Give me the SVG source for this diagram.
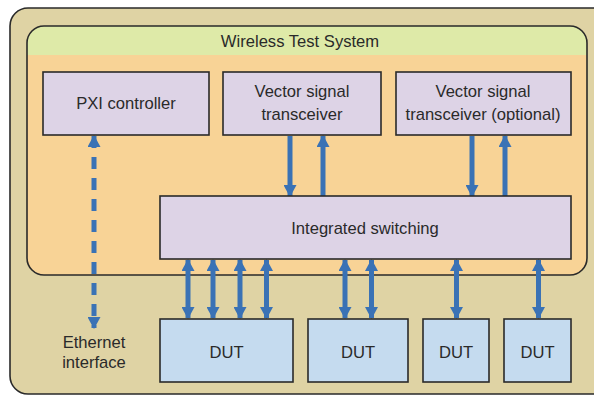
<svg xmlns="http://www.w3.org/2000/svg" width="594" height="395" viewBox="0 0 594 395">
<style>
.t{font-family:"Liberation Sans",Arial,sans-serif;font-size:16.6px;fill:#2a2a2a;text-anchor:middle}
.box{stroke:#2a2a2a;stroke-width:1.6}
.mod{fill:#ddd3e6}
.dut{fill:#c5dbef}
.ar{stroke:#3a72b5;stroke-width:5;fill:none}
</style>
<defs>
<clipPath id="ic"><rect x="27" y="26" width="560" height="249" rx="17"/></clipPath>
<marker id="ah" viewBox="0 0 12 10" refX="11" refY="5" markerUnits="userSpaceOnUse" markerWidth="12" markerHeight="13" orient="auto-start-reverse" preserveAspectRatio="none">
<path d="M0,0 L12,5 L0,10 Z" fill="#3a72b5"/>
</marker>
</defs>
<g id="outer">
<rect x="10" y="8" width="610" height="386" rx="18" fill="#dfd3a4" stroke="#2a2a2a" stroke-width="1.6"/>
</g>
<g id="wireless-test-system">
<g clip-path="url(#ic)">
<rect x="27" y="26" width="560" height="249" fill="#f8d396"/>
<rect x="27" y="26" width="560" height="29" fill="#deeaa8"/>
</g>
<rect x="27" y="26" width="560" height="249" rx="17" fill="none" stroke="#2a2a2a" stroke-width="1.6"/>
<text class="t" x="300" y="47">Wireless Test System</text>
</g>
<g id="connectors">
<line class="ar" x1="94" y1="136" x2="94" y2="328" stroke-dasharray="12 9" marker-start="url(#ah)" marker-end="url(#ah)"/>
<line class="ar" x1="290" y1="136" x2="290" y2="196" marker-end="url(#ah)"/>
<line class="ar" x1="323" y1="196" x2="323" y2="136" marker-end="url(#ah)"/>
<line class="ar" x1="472" y1="136" x2="472" y2="196" marker-end="url(#ah)"/>
<line class="ar" x1="505" y1="196" x2="505" y2="136" marker-end="url(#ah)"/>
<line class="ar" x1="188" y1="260" x2="188" y2="318" marker-start="url(#ah)" marker-end="url(#ah)"/>
<line class="ar" x1="213" y1="260" x2="213" y2="318" marker-start="url(#ah)" marker-end="url(#ah)"/>
<line class="ar" x1="240" y1="260" x2="240" y2="318" marker-start="url(#ah)" marker-end="url(#ah)"/>
<line class="ar" x1="266.5" y1="260" x2="266.5" y2="318" marker-start="url(#ah)" marker-end="url(#ah)"/>
<line class="ar" x1="345" y1="260" x2="345" y2="318" marker-start="url(#ah)" marker-end="url(#ah)"/>
<line class="ar" x1="371.5" y1="260" x2="371.5" y2="318" marker-start="url(#ah)" marker-end="url(#ah)"/>
<line class="ar" x1="456.5" y1="260" x2="456.5" y2="318" marker-start="url(#ah)" marker-end="url(#ah)"/>
<line class="ar" x1="538.5" y1="260" x2="538.5" y2="318" marker-start="url(#ah)" marker-end="url(#ah)"/>
</g>
<g id="pxi-controller">
<rect class="box mod" x="43" y="72" width="166" height="63"/>
<text class="t" x="126" y="109">PXI controller</text>
</g>
<g id="vst1">
<rect class="box mod" x="223" y="72" width="158" height="63"/>
<text class="t" x="302" y="97">Vector signal</text>
<text class="t" x="302" y="120">transceiver</text>
</g>
<g id="vst2">
<rect class="box mod" x="396" y="72" width="175" height="63"/>
<text class="t" x="483" y="97">Vector signal</text>
<text class="t" x="483" y="120">transceiver (optional)</text>
</g>
<g id="integrated-switching">
<rect class="box mod" x="160" y="196" width="411" height="63"/>
<text class="t" x="365" y="234">Integrated switching</text>
</g>
<g id="ethernet">
<text class="t" x="94" y="348">Ethernet</text>
<text class="t" x="94" y="368">interface</text>
</g>
<g id="dut1">
<rect class="box dut" x="160" y="319" width="133" height="63"/>
<text class="t" x="226.5" y="358">DUT</text>
</g>
<g id="dut2">
<rect class="box dut" x="308" y="319" width="100" height="63"/>
<text class="t" x="358" y="358">DUT</text>
</g>
<g id="dut3">
<rect class="box dut" x="423" y="319" width="66" height="63"/>
<text class="t" x="456" y="358">DUT</text>
</g>
<g id="dut4">
<rect class="box dut" x="504" y="319" width="67" height="63"/>
<text class="t" x="537.5" y="358">DUT</text>
</g>
</svg>
